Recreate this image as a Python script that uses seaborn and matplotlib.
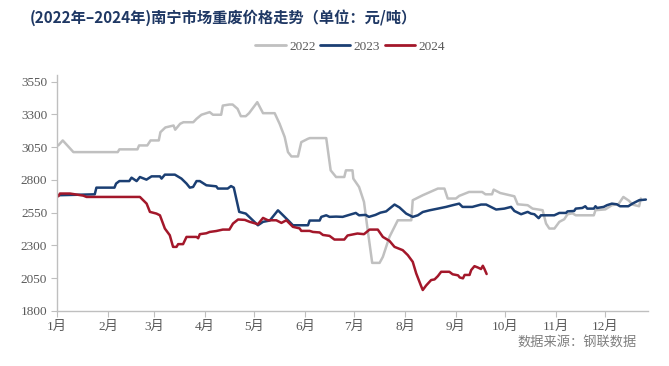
import numpy as np
import pandas as pd
import matplotlib
matplotlib.use("Agg")
import matplotlib.pyplot as plt
import seaborn as sns

# ---- data (day of year, price 元/吨) ----
days_2022 = [0.8, 3.5, 10, 37, 38, 49, 50, 55, 57, 62, 63, 66, 71, 72, 75, 77, 83, 85, 88, 93, 95, 100,
             101, 105, 107, 110, 112, 115, 117, 122, 125.5, 132.6, 135.6, 138.7, 140.7, 142.8, 146.8,
             148.8, 152.9, 154, 164, 166.7, 170, 175, 176, 180, 180.5, 184, 187, 189, 192, 196.5, 198.5,
             202.5, 207.6, 215.8, 216.7, 222.8, 232, 236, 238, 243, 245, 251, 259, 261, 265, 266, 270,
             278.6, 280.6, 286.7, 289.7, 295.8, 297.9, 299.9, 303, 306, 309, 311, 314, 316, 327, 328,
             334, 338, 342, 345, 348.5, 350.5, 354.6, 355.6]
price_2022 = [3063, 3101, 3012, 3012, 3033, 3033, 3063, 3063, 3101, 3101, 3164, 3200, 3215, 3183, 3228,
              3240, 3240, 3266, 3297, 3317, 3297, 3297, 3367, 3375, 3375, 3342, 3286, 3286, 3309, 3393,
              3309, 3309, 3228, 3127, 3012, 2979, 2979, 3088, 3114, 3119, 3119, 2873, 2822, 2822, 2873,
              2873, 2810, 2746, 2632, 2441, 2167, 2167, 2213, 2365, 2492, 2492, 2645, 2683, 2734, 2734,
              2658, 2658, 2678, 2708, 2708, 2690, 2690, 2726, 2700, 2675, 2614, 2607, 2581, 2569, 2467,
              2429, 2429, 2480, 2500, 2538, 2545, 2530, 2530, 2569, 2575, 2607, 2615, 2670, 2640, 2612,
              2599, 2658]

days_2023 = [0.8, 23, 24, 35, 36, 38, 44, 45.4, 48.5, 50.5, 54.5, 57.6, 62.7, 63.7, 65.7, 71.8, 75.8,
             78.9, 80.9, 82.9, 85, 87, 91, 97, 98, 104, 106, 107.7, 111, 115, 122.4, 125.5, 129.6, 134.6,
             137.7, 141.7, 143.7, 152.9, 153.9, 160, 161, 164, 166, 170, 174, 178, 182, 184, 188, 190,
             194, 197, 200.5, 205.6, 208.6, 212.7, 216.7, 219.8, 222.8, 226.9, 232, 237, 241, 245, 247,
             253, 258.3, 261.4, 267.5, 272.5, 276.6, 278.6, 282.7, 286.7, 288.7, 290.8, 293.4, 294.8,
             302.9, 306, 310, 311, 315, 316, 320, 321.8, 323, 327, 328, 329, 333, 335, 338, 341, 343,
             348, 350.5, 354.6, 358.7]
price_2023 = [2683, 2690, 2741, 2741, 2772, 2791, 2791, 2817, 2791, 2822, 2802, 2827, 2827, 2810, 2840,
              2840, 2810, 2772, 2741, 2746, 2791, 2791, 2759, 2751, 2734, 2734, 2753, 2741, 2556, 2543,
              2454, 2480, 2490, 2568, 2530, 2480, 2454, 2454, 2490, 2490, 2518, 2530, 2518, 2520, 2518,
              2533, 2548, 2530, 2533, 2518, 2533, 2550, 2560, 2612, 2590, 2543, 2518, 2530, 2555, 2568,
              2581, 2594, 2607, 2619, 2594, 2594, 2612, 2612, 2574, 2581, 2594, 2563, 2538, 2556, 2543,
              2538, 2508, 2530, 2530, 2548, 2548, 2560, 2563, 2581, 2586, 2599, 2581, 2581, 2599, 2586,
              2594, 2607, 2619, 2614, 2599, 2599, 2619, 2645, 2650]

days_2024 = [0.8, 1.8, 7.9, 12, 16, 18, 50.5, 54.6, 56.6, 60.6, 62.7, 65.7, 68.7, 70.7, 72.8, 73.8,
             76.8, 78.9, 85, 86, 87, 91, 93, 97, 101, 105, 107.2, 110.3, 114.4, 117.4, 122.4, 125.5,
             128.5, 133.6, 136.7, 139.7, 143.7, 147.8, 148.8, 153.9, 155.9, 160, 162, 166, 169, 175,
             177, 183, 187, 190.4, 195.4, 198.5, 202.5, 205.6, 210.6, 213.7, 216.7, 218.8, 221.8,
             222.8, 224.9, 227.9, 230, 232, 234, 239, 241, 244.3, 245.3, 247.3, 248.3, 251.3, 252.3,
             254.3, 256.3, 258.3, 259.4, 260.4, 261.7]
price_2024 = [2675, 2696, 2696, 2688, 2680, 2670, 2670, 2619, 2556, 2543, 2530, 2429, 2378, 2289, 2289,
              2310, 2310, 2365, 2365, 2355, 2386, 2393, 2403, 2410, 2421, 2421, 2467, 2498, 2495, 2480,
              2462, 2510, 2492, 2492, 2472, 2492, 2442, 2430, 2411, 2411, 2403, 2399, 2380, 2373, 2345,
              2345, 2376, 2391, 2386, 2421, 2421, 2365, 2335, 2289, 2264, 2226, 2175, 2087, 1990, 1960,
              1995, 2036, 2041, 2066, 2099, 2099, 2080, 2072, 2056, 2049, 2075, 2075, 2112, 2142, 2132,
              2120, 2145, 2120, 2082]

years = ["2022", "2023", "2024"]
month_starts = [0, 31, 59, 90, 120, 151, 181, 212, 243, 273, 304, 334]
month_labels = ["1月", "2月", "3月", "4月", "5月", "6月", "7月", "8月", "9月", "10月", "11月", "12月"]
y_ticks = [1800, 2050, 2300, 2550, 2800, 3050, 3300, 3550]

title = "(2022年–2024年)南宁市场重废价格走势（单位：元/吨）"
source = "数据来源：钢联数据"

# ---- build long-form table ----
frames = []
for yr, d, p in zip(years, [days_2022, days_2023, days_2024], [price_2022, price_2023, price_2024]):
    frames.append(pd.DataFrame({"day": d, "price": p, "year": yr}))
df = pd.concat(frames, ignore_index=True)

sns.set_theme(style="white")
plt.rcParams["font.family"] = ["Liberation Serif", "Noto Sans CJK SC", "DejaVu Sans"]

fig = plt.figure(figsize=(6.69, 3.66), dpi=100)
ax = fig.add_axes([0.0852, 0.1503, 0.8834, 0.6447])

palette = {"2022": "#c0c0c0", "2023": "#1b3f73", "2024": "#a3172a"}
sns.lineplot(data=df, x="day", y="price", hue="year", palette=palette, sort=False,
             estimator=None, linewidth=1.8, ax=ax, legend=True)

ax.set_xlim(0, 360)
ax.set_ylim(1800, 3600)
ax.set_xticks(month_starts)
ax.set_xticklabels(month_labels, family=["Liberation Serif", "Noto Sans CJK SC"])
ax.set_yticks(y_ticks)
ax.set_xlabel("")
ax.set_ylabel("")

for s in ["top", "right"]:
    ax.spines[s].set_visible(False)
for s in ["left", "bottom"]:
    ax.spines[s].set_color("#bfbfbf")
    ax.spines[s].set_linewidth(1.0)
ax.tick_params(axis="both", which="major", direction="out", length=4, width=0.8,
               color="#bfbfbf", labelcolor="#595959", labelsize=9.5, pad=3,
               bottom=True, left=True)
ax.grid(False)

leg = ax.legend(loc="center", bbox_to_anchor=(0.496, 1.119), ncol=3, frameon=False,
                fontsize=9.5, handlelength=2.3, handletextpad=0.25, columnspacing=0.35,
                borderaxespad=0, borderpad=0)
for t in leg.get_texts():
    t.set_color("#595959")
for h in leg.get_lines():
    h.set_linewidth(2.0)

fig.text(0.045, 0.953, title, ha="left", va="center", fontsize=11, fontweight="bold",
         color="#1f3864", family=["Noto Sans CJK SC", "DejaVu Sans"])
fig.text(0.952, 0.062, source, ha="right", va="center", fontsize=9.5, color="#7f7f7f",
         family=["Noto Sans CJK SC", "DejaVu Sans"])

fig.savefig("out.png", dpi=100)
